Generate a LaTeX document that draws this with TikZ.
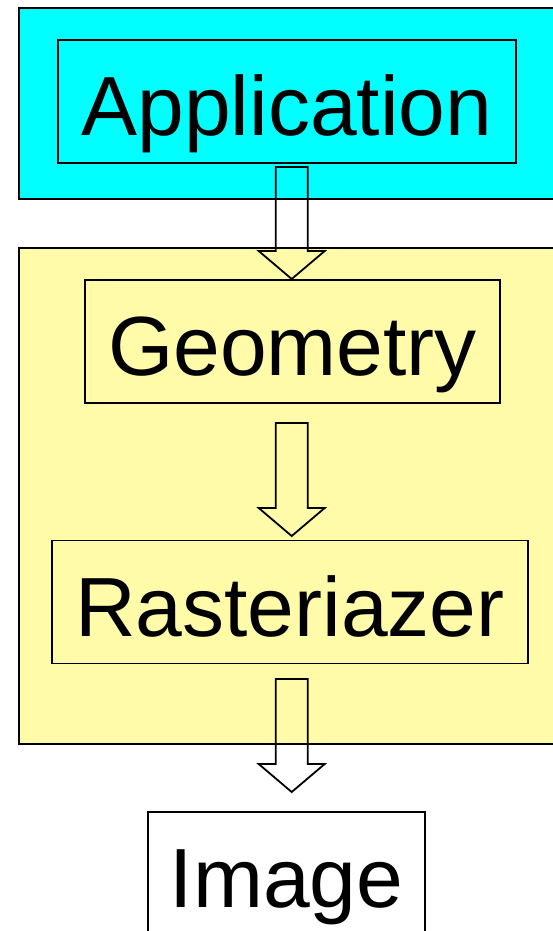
\documentclass[tikz,border=0pt]{standalone}
\usepackage{fontspec}
\setmainfont{Liberation Sans}
\usetikzlibrary{calc}
\definecolor{AppColor}{HTML}{00FFFF}
\definecolor{PipeColor}{HTML}{FFFBA8}

% hollow block arrow from a shaft top down to its tip
\newcommand{\blockarrow}[2]{%
  \draw[blockarr] ($(#1)+(-16,0)$) -- ($(#2)+(-16,-28)$) -- ($(#2)+(-33,-28)$) -- (#2)
    -- ($(#2)+(33,-28)$) -- ($(#2)+(16,-28)$) -- ($(#1)+(16,0)$) -- cycle;}

\begin{document}
\begin{tikzpicture}[
        x=1pt, y=-1pt,
        stage/.style={draw=black, line width=2pt},
        stagebox/.style={rectangle, draw=black, line width=1.3pt, inner sep=0pt, minimum height=123pt,
          text height=68pt, text depth=0pt, font=\fontsize{84}{90}\selectfont},
        blockarr/.style={draw=black, line width=1.8pt, line join=miter}
      ]
        \useasboundingbox (0,0) rectangle (552,931);

        % Backgrounds
        \fill[white] (0,0) rectangle (552,931);
        \draw[stage, fill=AppColor] (19,8) rectangle (580,199);
        \draw[stage, fill=PipeColor] (19,248) rectangle (580,744);

        % Nodes
        \node[stagebox, minimum width=458pt] (app) at (287,101.5) {Application};
        \node[stagebox, minimum width=415pt] (geom) at (292.5,341.5) {Geometry};
        \node[stagebox, minimum width=476pt] (rast) at (290,602) {Rasteriazer};
        \node[stagebox, minimum width=277pt, fill=white] (img) at (286.5,873.5) {Image};

        % Edges
        \coordinate (a1s) at (291.7,167);
        \coordinate (a1t) at (291.7,279);
        \coordinate (a2s) at (291.7,423);
        \coordinate (a2t) at (291.7,536);
        \coordinate (a3s) at (291.7,679);
        \coordinate (a3t) at (291.7,792);
        \blockarrow{a1s}{a1t}
        \blockarrow{a2s}{a2t}
        \blockarrow{a3s}{a3t}
      \end{tikzpicture}
\end{document}
